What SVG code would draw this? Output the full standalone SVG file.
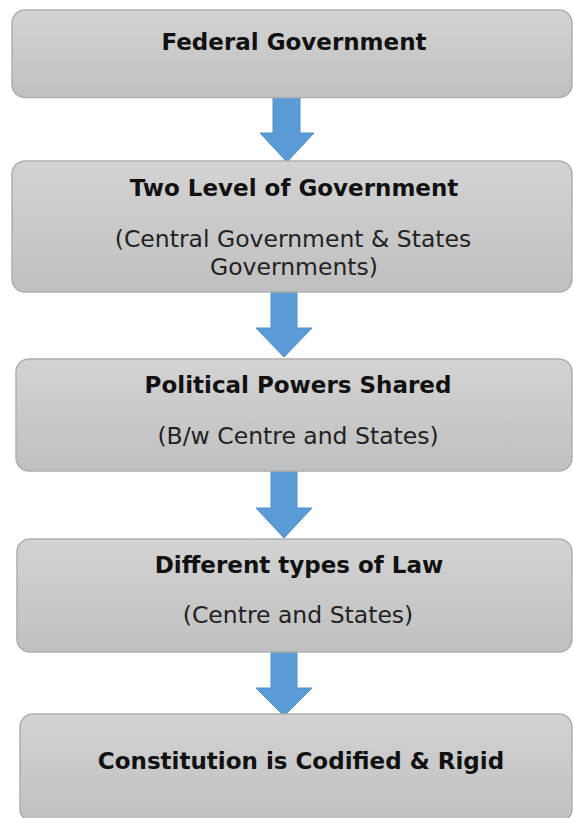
<svg xmlns="http://www.w3.org/2000/svg" width="573" height="818" viewBox="0 0 573 818">
<defs>
<linearGradient id="g" x1="0" y1="0" x2="0" y2="1">
<stop offset="0" stop-color="#d3d3d3"/>
<stop offset="1" stop-color="#c0c0c0"/>
</linearGradient>
<style>
.box{fill:url(#g);stroke:#aeaeae;stroke-width:1.5}
.t{font-family:"DejaVu Sans",Verdana,sans-serif;font-weight:bold;font-size:23px;fill:#111;text-anchor:middle}
.s{font-family:"DejaVu Sans",Verdana,sans-serif;font-size:23.5px;fill:#222;text-anchor:middle}
.arr{fill:#5b9bd5;stroke:#5090cc;stroke-width:1}
</style>
</defs>
<rect width="573" height="818" fill="#fff"/>
<g id="connectors">
<polygon class="arr" points="273,97 300,97 300,133 314,133 287,162 260,133 273,133"/>
<polygon class="arr" points="271,292 297,292 297,328 312,328 284,357 256,328 271,328"/>
<polygon class="arr" points="271,471 297,471 297,508 312,508 284,538 256,508 271,508"/>
<polygon class="arr" points="271,652 297,652 297,688 312,688 284,716 256,688 271,688"/>
</g>
<g id="node1">
<rect class="box" x="12" y="10" width="560" height="87.5" rx="13"/>
<text class="t" x="294" y="50">Federal Government</text>
</g>
<g id="node2">
<rect class="box" x="12" y="161" width="560" height="131" rx="13"/>
<text class="t" x="294" y="196">Two Level of Government</text>
<text class="s" x="293" y="247">(Central Government &amp; States</text>
<text class="s" x="294" y="275">Governments)</text>
</g>
<g id="node3">
<rect class="box" x="16" y="359" width="556" height="112" rx="13"/>
<text class="t" x="298" y="393">Political Powers Shared</text>
<text class="s" x="298" y="444">(B/w Centre and States)</text>
</g>
<g id="node4">
<rect class="box" x="17" y="539" width="555" height="113" rx="13"/>
<text class="t" x="299" y="573">Different types of Law</text>
<text class="s" x="298" y="623">(Centre and States)</text>
</g>
<g id="node5">
<rect class="box" x="20" y="714" width="552" height="108" rx="13"/>
<text class="t" x="301" y="769">Constitution is Codified &amp; Rigid</text>
</g>
</svg>
